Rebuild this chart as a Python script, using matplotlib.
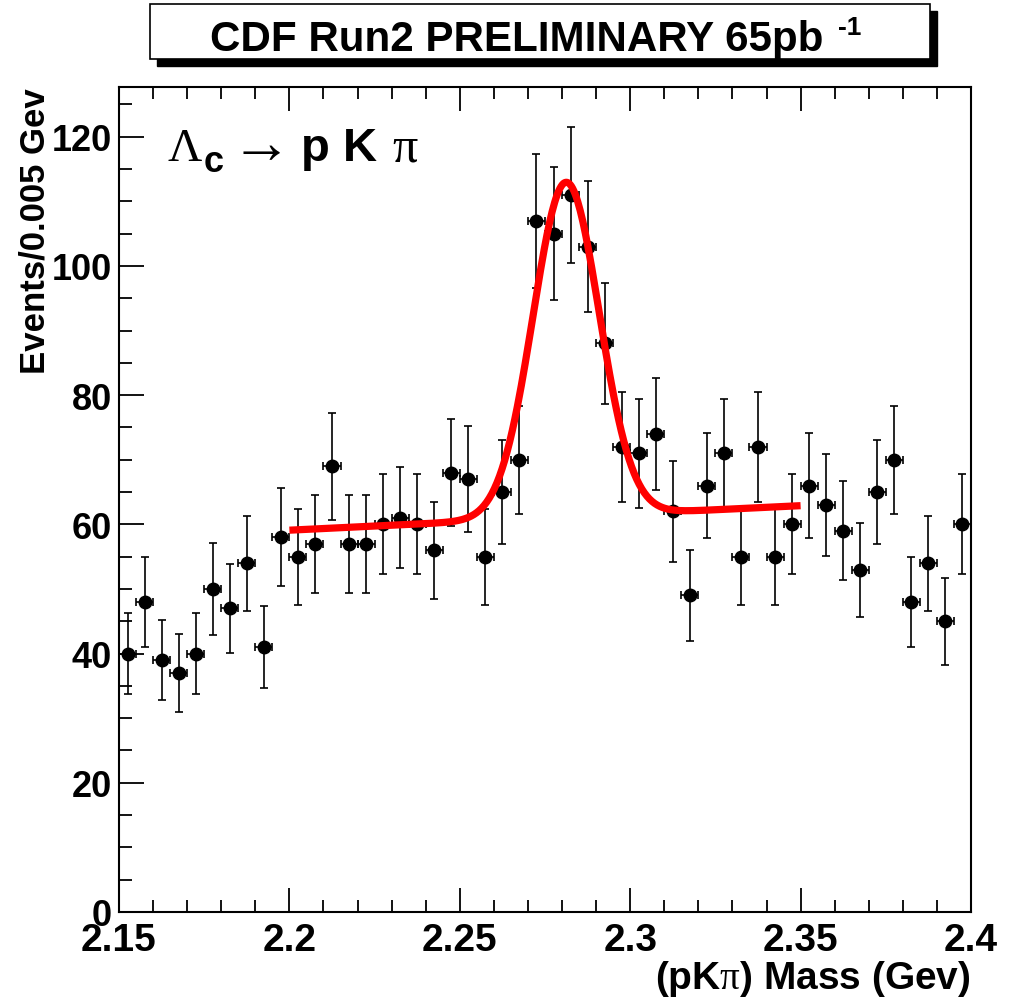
import numpy as np
import matplotlib
matplotlib.use('Agg')
import matplotlib.pyplot as plt
from matplotlib.patches import Rectangle
from matplotlib.ticker import MultipleLocator

plt.rcParams['font.family'] = ['Liberation Sans', 'DejaVu Sans']
plt.rcParams['font.weight'] = 'bold'
plt.rcParams['mathtext.fontset'] = 'custom'
plt.rcParams['mathtext.rm'] = 'Liberation Serif:weight=normal'
plt.rcParams['mathtext.it'] = 'Liberation Serif:weight=normal'
plt.rcParams['mathtext.bf'] = 'Liberation Sans:bold'

# histogram: 50 bins of 0.005 GeV from 2.15 to 2.40
bin_lo = 2.15
bin_width = 0.005
counts = [40, 48, 39, 37, 40, 50, 47, 54, 41, 58,
          55, 57, 69, 57, 57, 60, 61, 60, 56, 68,
          67, 55, 65, 70, 107, 105, 111, 103, 88, 72,
          71, 74, 62, 49, 66, 71, 55, 72, 55, 60,
          66, 63, 59, 53, 65, 70, 48, 54, 45, 60]

# gaussian + linear background fit
fit_range = (2.20, 2.35)
bg_at_lo = 59.1      # background at 2.20
bg_slope = 25.3      # per GeV
peak_amp = 51.8
peak_mean = 2.2812
peak_sigma = 0.0097

xtick_vals = [2.15, 2.2, 2.25, 2.3, 2.35, 2.4]
xtick_labels = ['2.15', '2.2', '2.25', '2.3', '2.35', '2.4']

counts = np.array(counts, dtype=float)
centers = bin_lo + bin_width * (np.arange(len(counts)) + 0.5)

W, H = 1015, 1003
fig = plt.figure(figsize=(W/100, H/100), dpi=100)
ax = fig.add_axes([119/W, 90/H, 852/W, 825/H])

ax.errorbar(centers, counts, yerr=np.sqrt(counts), xerr=bin_width/2,
            fmt='o', color='black', ms=9, elinewidth=1.2,
            capsize=3, capthick=1.2, zorder=2)

xf = np.linspace(fit_range[0], fit_range[1], 400)
yf = bg_at_lo + bg_slope*(xf - fit_range[0]) + \
     peak_amp*np.exp(-0.5*((xf - peak_mean)/peak_sigma)**2)
ax.plot(xf, yf, color='#ff0000', lw=5.2, zorder=3, solid_capstyle='butt')

ax.set_xlim(2.15, 2.4)
ax.set_ylim(0, 127.7)
ax.set_xticks(xtick_vals)
ax.set_xticklabels(xtick_labels)
ax.xaxis.set_minor_locator(MultipleLocator(0.01))
ax.yaxis.set_major_locator(MultipleLocator(20))
ax.yaxis.set_minor_locator(MultipleLocator(5))
ax.tick_params(axis='x', which='both', direction='in', top=True, width=1.3,
               labelsize=28, pad=7)
ax.tick_params(axis='x', which='major', length=17)
ax.tick_params(axis='x', which='minor', length=8.6)
ax.tick_params(axis='y', which='both', direction='in', right=False, width=1.3,
               labelsize=26, pad=5)
ax.tick_params(axis='y', which='major', length=18)
ax.tick_params(axis='y', which='minor', length=9)
for s in ax.spines.values():
    s.set_linewidth(1.5)

ax.set_xlabel(r'(pK$\pi$) Mass (Gev)', fontsize=28, fontweight='bold')
ax.xaxis.set_label_coords(1.0, -0.08)
ax.xaxis.label.set_horizontalalignment('right')
ax.xaxis.label.set_verticalalignment('center')
ax.set_ylabel('Events/0.005 Gev', fontsize=25, fontweight='bold')
ax.yaxis.set_label_coords(-0.099, 1.0)
ax.yaxis.label.set_horizontalalignment('right')
ax.yaxis.label.set_verticalalignment('center')


def ptext(px, py, s, **kw):
    # place text by pixel position from the top-left corner
    return fig.text(px/W, 1 - py/H, s, va='baseline', ha='left', **kw)


serif = ['Liberation Serif', 'DejaVu Serif']
ptext(167, 161, 'Λ', fontsize=34, family=serif, fontweight='normal')
ptext(204, 172, 'c', fontsize=26, fontweight='bold')
ptext(231, 163, '→', fontsize=44, family=serif + ['DejaVu Sans'], fontweight='normal')
ptext(301, 161, 'p K', fontsize=34, fontweight='bold')
ptext(392, 161, 'π', fontsize=36, family=serif, fontweight='normal')

# title box with shadow
bx0, bx1, by0, by1 = 150, 930, 5, 60
fig.patches.append(Rectangle(((bx0 + 7)/W, 1 - (by1 + 7)/H), (bx1 - bx0)/W, (by1 - by0)/H,
                             transform=fig.transFigure, facecolor='black',
                             edgecolor='black', zorder=1))
fig.patches.append(Rectangle((bx0/W, 1 - by1/H), (bx1 - bx0)/W, (by1 - by0)/H,
                             transform=fig.transFigure, facecolor='white',
                             edgecolor='black', lw=1.2, zorder=2))
fig.text(823/W, 1 - 51/H, 'CDF Run2 PRELIMINARY 65pb',
         fontsize=30.3, fontweight='bold', ha='right', va='baseline', zorder=3)
fig.text(838/W, 1 - 35/H, '-1',
         fontsize=19, fontweight='bold', ha='left', va='baseline', zorder=3)

fig.savefig('out.png', dpi=100)
